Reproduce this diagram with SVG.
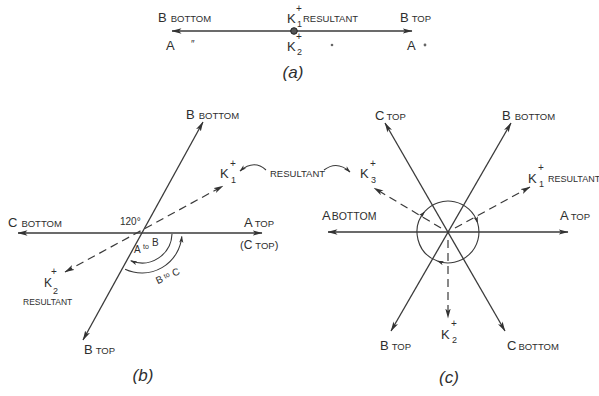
<svg xmlns="http://www.w3.org/2000/svg" width="599" height="396" viewBox="0 0 599 396">
<style>
text{font-family:"Liberation Sans",Arial,sans-serif;fill:#2e2e2e}
.big{font-size:13px}
.sc{font-size:9.5px}
.sup{font-size:10px}
.sub{font-size:9px}
.cap{font-size:17px;font-style:italic;text-anchor:middle}
.ln{stroke:#3a3a3a;stroke-width:1.3;fill:none}
.dash{stroke:#3a3a3a;stroke-width:1.2;fill:none;stroke-dasharray:8 5}
.thin{stroke:#3a3a3a;stroke-width:1.1;fill:none}
</style>
<defs>
<marker id="ah" viewBox="0 0 10 6" refX="9.5" refY="3" markerWidth="10" markerHeight="6" markerUnits="userSpaceOnUse" orient="auto-start-reverse"><path d="M0,0.3 L10,3 L0,5.7 L2.5,3 z" fill="#333"/></marker>
<marker id="ahs" viewBox="0 0 10 6" refX="9" refY="3" markerWidth="7" markerHeight="5" markerUnits="userSpaceOnUse" orient="auto-start-reverse"><path d="M0,0 L10,3 L0,6 L2.5,3 z" fill="#333"/></marker>
</defs>

<g id="connectors">
  <!-- (a) -->
  <line class="ln" x1="172" y1="31" x2="412" y2="31" marker-start="url(#ah)" marker-end="url(#ah)"/>
  <!-- (b) -->
  <line class="ln" x1="18" y1="233" x2="262" y2="233" marker-start="url(#ah)" marker-end="url(#ah)"/>
  <line class="ln" x1="83" y1="340" x2="203" y2="122" marker-start="url(#ah)" marker-end="url(#ah)"/>
  <line class="dash" x1="65" y1="272" x2="223" y2="186" marker-start="url(#ah)" marker-end="url(#ah)"/>
  <path class="thin" d="M172,234 A30,30 0 0 1 130.8,260.8" marker-end="url(#ahs)"/>
  <path class="thin" d="M125.1,269.3 A40,40 0 0 0 181.8,236.5" marker-end="url(#ahs)"/>
  <path class="thin" d="M266,170 Q254,159 240,171" marker-end="url(#ahs)"/>
  <path class="thin" d="M324,170 Q337,160 350,172" marker-end="url(#ahs)"/>
  <!-- (c) -->
  <line class="ln" x1="328" y1="232" x2="568" y2="232" marker-start="url(#ah)" marker-end="url(#ah)"/>
  <line class="ln" x1="385" y1="123" x2="505" y2="331" marker-start="url(#ah)" marker-end="url(#ah)"/>
  <line class="ln" x1="511" y1="123" x2="391" y2="331" marker-start="url(#ah)" marker-end="url(#ah)"/>
  <line class="dash" x1="455" y1="228" x2="530" y2="187" marker-end="url(#ah)"/>
  <line class="dash" x1="441" y1="228" x2="374" y2="188" marker-end="url(#ah)"/>
  <line class="dash" x1="448" y1="240" x2="448" y2="318" marker-end="url(#ah)"/>
  <path class="thin" d="M477.6,222.9 A31,31 0 0 1 437.4,261.1" marker-end="url(#ahs)"/>
  <path class="thin" d="M437.4,261.1 A31,31 0 0 1 424.6,211.7" marker-end="url(#ahs)"/>
  <path class="thin" d="M424.6,211.7 A31,31 0 0 1 477.6,222.9" marker-end="url(#ahs)"/>
</g>

<g id="panel-a">
  <g id="a-center"><circle cx="294" cy="31" r="3.3" fill="#555" stroke="#222" stroke-width="1"/></g>
  <g id="a-bbottom"><text x="158" y="22"><tspan class="big">B</tspan><tspan class="sc" dx="4">BOTTOM</tspan></text></g>
  <g id="a-k1"><text class="big" x="287" y="23">K</text><text class="sup" x="296" y="12">+</text><text class="sub" x="297" y="27">1</text><text class="sc" x="303" y="22">RESULTANT</text></g>
  <g id="a-btop"><text x="400" y="22"><tspan class="big">B</tspan><tspan class="sc" dx="3">TOP</tspan></text></g>
  <g id="a-aleft"><text class="big" x="166" y="50">A</text><text class="sup" x="191" y="48">″</text></g>
  <g id="a-k2"><text class="big" x="287" y="51">K</text><text class="sup" x="296" y="40">+</text><text class="sub" x="297" y="55">2</text></g>
  <circle cx="332" cy="45" r="1.3" fill="#666"/>
  <g id="a-aright"><text class="big" x="407" y="50">A</text><circle cx="425" cy="45" r="1.4" fill="#666"/></g>
  <text class="cap" x="293" y="78">(a)</text>
</g>

<g id="panel-b">
  <g id="b-bbottom"><text x="186" y="119"><tspan class="big">B</tspan><tspan class="sc" dx="4">BOTTOM</tspan></text></g>
  <g id="b-k1"><text class="big" x="220" y="178">K</text><text class="sup" x="230" y="167">+</text><text class="sub" x="231" y="183">1</text></g>
  <g id="resultant-mid"><text class="sc" x="270" y="177">RESULTANT</text></g>
  <g id="b-cbottom"><text x="8" y="227"><tspan class="big">C</tspan><tspan class="sc" dx="4">BOTTOM</tspan></text></g>
  <g id="b-120"><text x="120" y="225" style="font-size:10px">120°</text></g>
  <g id="b-atop"><text x="244" y="227"><tspan class="big">A</tspan><tspan class="sc" dx="2">TOP</tspan></text></g>
  <g id="b-ctop"><text x="240" y="249"><tspan style="font-size:11px">(</tspan><tspan style="font-size:12px">C</tspan><tspan class="sc" dx="3">TOP</tspan><tspan style="font-size:11px">)</tspan></text></g>
  <g id="b-atob"><text x="134" y="253" style="font-size:10px">A</text><text x="143" y="249" style="font-size:7px">to</text><text x="152" y="246" style="font-size:10px">B</text></g>
  <g id="b-btoc" transform="rotate(-25 166 276)"><text x="155" y="280" style="font-size:10px">B</text><text x="164" y="278" style="font-size:7px">to</text><text x="173" y="280" style="font-size:10px">C</text></g>
  <g id="b-k2"><text style="font-size:12px" x="44" y="287">K</text><text class="sup" x="51" y="275">+</text><text class="sub" x="53" y="294">2</text><text style="font-size:8.5px" x="23" y="305">RESULTANT</text></g>
  <g id="b-btop"><text x="84" y="354"><tspan class="big">B</tspan><tspan class="sc" dx="3">TOP</tspan></text></g>
  <text class="cap" x="143" y="381">(b)</text>
</g>

<g id="panel-c">
  <g id="c-ctop"><text x="375" y="120"><tspan class="big">C</tspan><tspan class="sc" dx="2">TOP</tspan></text></g>
  <g id="c-bbottom"><text x="502" y="120"><tspan class="big">B</tspan><tspan class="sc" dx="4">BOTTOM</tspan></text></g>
  <g id="c-k3"><text class="big" x="360" y="178">K</text><text class="sup" x="370" y="167">+</text><text class="sub" x="371" y="183">3</text></g>
  <g id="c-k1"><text class="big" x="528" y="183">K</text><text class="sup" x="538" y="171">+</text><text class="sub" x="539" y="187">1</text><text style="font-size:9px" x="548" y="182">RESULTANT</text></g>
  <g id="c-abottom"><text x="322" y="220"><tspan class="big">A</tspan><tspan style="font-size:10.5px" dx="1">BOTTOM</tspan></text></g>
  <g id="c-atop"><text x="560" y="220"><tspan class="big">A</tspan><tspan class="sc" dx="2">TOP</tspan></text></g>
  <g id="c-btop"><text x="380" y="350"><tspan class="big">B</tspan><tspan class="sc" dx="3">TOP</tspan></text></g>
  <g id="c-cbottom"><text x="507" y="350"><tspan class="big">C</tspan><tspan class="sc" dx="2">BOTTOM</tspan></text></g>
  <g id="c-k2"><text class="big" x="441" y="339">K</text><text class="sup" x="451" y="327">+</text><text class="sub" x="452" y="343">2</text></g>
  <text class="cap" x="449" y="383">(c)</text>
</g>
</svg>
